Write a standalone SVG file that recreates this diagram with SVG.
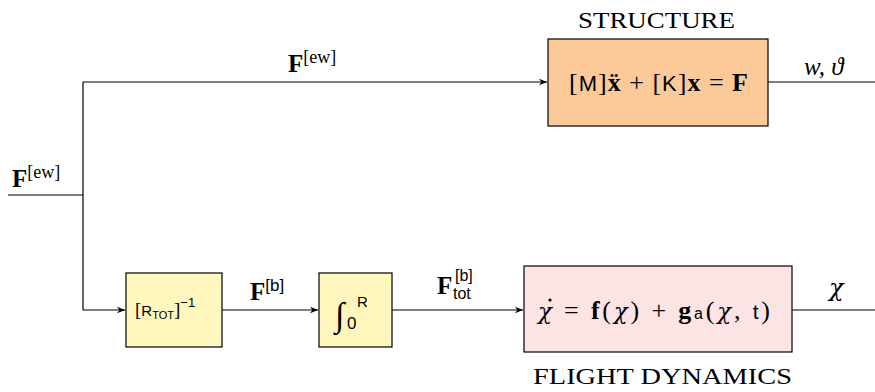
<svg xmlns="http://www.w3.org/2000/svg" width="875" height="392" viewBox="0 0 875 392">
<style>
.box{stroke:#000;stroke-width:1.2}
.ln{fill:none;stroke:#000;stroke-width:1.2}
text{font-family:"Liberation Serif","DejaVu Serif",serif;fill:#000}
.b{font-weight:bold}
.sm{font-family:"Liberation Sans","DejaVu Sans",sans-serif}
.chi{font-family:"DejaVu Serif",serif;font-style:italic}
</style>
<defs>
<marker id="ar" viewBox="0 0 10 10" refX="10" refY="5" markerWidth="8" markerHeight="8" markerUnits="userSpaceOnUse" orient="auto">
<path d="M0,1 L10,5 L0,9 L3,5 Z" fill="#000"/>
</marker>
</defs>
<rect width="875" height="392" fill="#fff"/>
<g id="connectors">
<path class="ln" d="M8,195 H83"/>
<path class="ln" d="M83,82 V310"/>
<path class="ln" d="M83,82 H547" marker-end="url(#ar)"/>
<path class="ln" d="M83,310 H125" marker-end="url(#ar)"/>
<path class="ln" d="M222,310 H318" marker-end="url(#ar)"/>
<path class="ln" d="M392,310 H523" marker-end="url(#ar)"/>
<path class="ln" d="M768,82 H875"/>
<path class="ln" d="M792,310 H875"/>
<text x="288" y="72" font-size="25"><tspan class="b">F</tspan><tspan font-size="18" dy="-9">[ew]</tspan></text>
<text x="12" y="187" font-size="25"><tspan class="b">F</tspan><tspan font-size="18" dy="-9">[ew]</tspan></text>
<text x="250" y="300" font-size="25"><tspan class="b">F</tspan><tspan class="sm" font-size="17" dy="-9">[b]</tspan></text>
<text x="437" y="294" font-size="25" class="b">F</text>
<text x="455" y="281" font-size="16" class="sm">[b]</text>
<text x="453" y="299" font-size="16" class="sm">tot</text>
<text x="804" y="75" font-size="25" font-style="italic">w, ϑ</text>
<text x="829" y="296" font-size="24" class="chi">χ</text>
</g>
<g id="structure">
<text x="578" y="28" font-size="24" textLength="157" lengthAdjust="spacingAndGlyphs">STRUCTURE</text>
<rect class="box" x="548" y="39" width="220" height="87" fill="#FCCA99"/>
<text x="569" y="91" font-size="26" textLength="179">[<tspan class="sm" font-size="22">M</tspan>]<tspan class="b">ẍ</tspan> + [<tspan class="sm" font-size="22">K</tspan>]<tspan class="b">x</tspan> = <tspan class="b">F</tspan></text>
</g>
<g id="rtot">
<rect class="box" x="126" y="273" width="96" height="74" fill="#FFF7BE"/>
<text x="135" y="316" font-size="19" fill="#333">[<tspan class="sm" font-size="15">R</tspan><tspan class="sm" font-size="11" dy="3">TOT</tspan><tspan dy="-3">]</tspan><tspan class="sm" font-size="13" dy="-9">−1</tspan></text>
</g>
<g id="integral">
<rect class="box" x="319" y="273" width="73" height="74" fill="#FFF7BE"/>
<text x="335" y="326" font-size="34" font-family="DejaVu Serif">∫</text>
<text x="357" y="307" font-size="15" class="sm">R</text>
<text x="347" y="329" font-size="17" class="sm">0</text>
</g>
<g id="flight">
<rect class="box" x="524" y="266" width="268" height="86" fill="#FCE4E5"/>
<circle cx="550" cy="300" r="1.6" fill="#000"/>
<text x="538" y="319" font-size="26" textLength="232"><tspan class="chi" font-size="23">χ</tspan> = <tspan class="b">f</tspan>(<tspan class="chi" font-size="23">χ</tspan>) + <tspan class="b">g</tspan><tspan class="sm" font-size="16">a</tspan>(<tspan class="chi" font-size="23">χ</tspan>, <tspan class="sm" font-size="21">t</tspan>)</text>
<text x="533" y="384" font-size="23" textLength="259" lengthAdjust="spacingAndGlyphs">FLIGHT DYNAMICS</text>
</g>
</svg>
